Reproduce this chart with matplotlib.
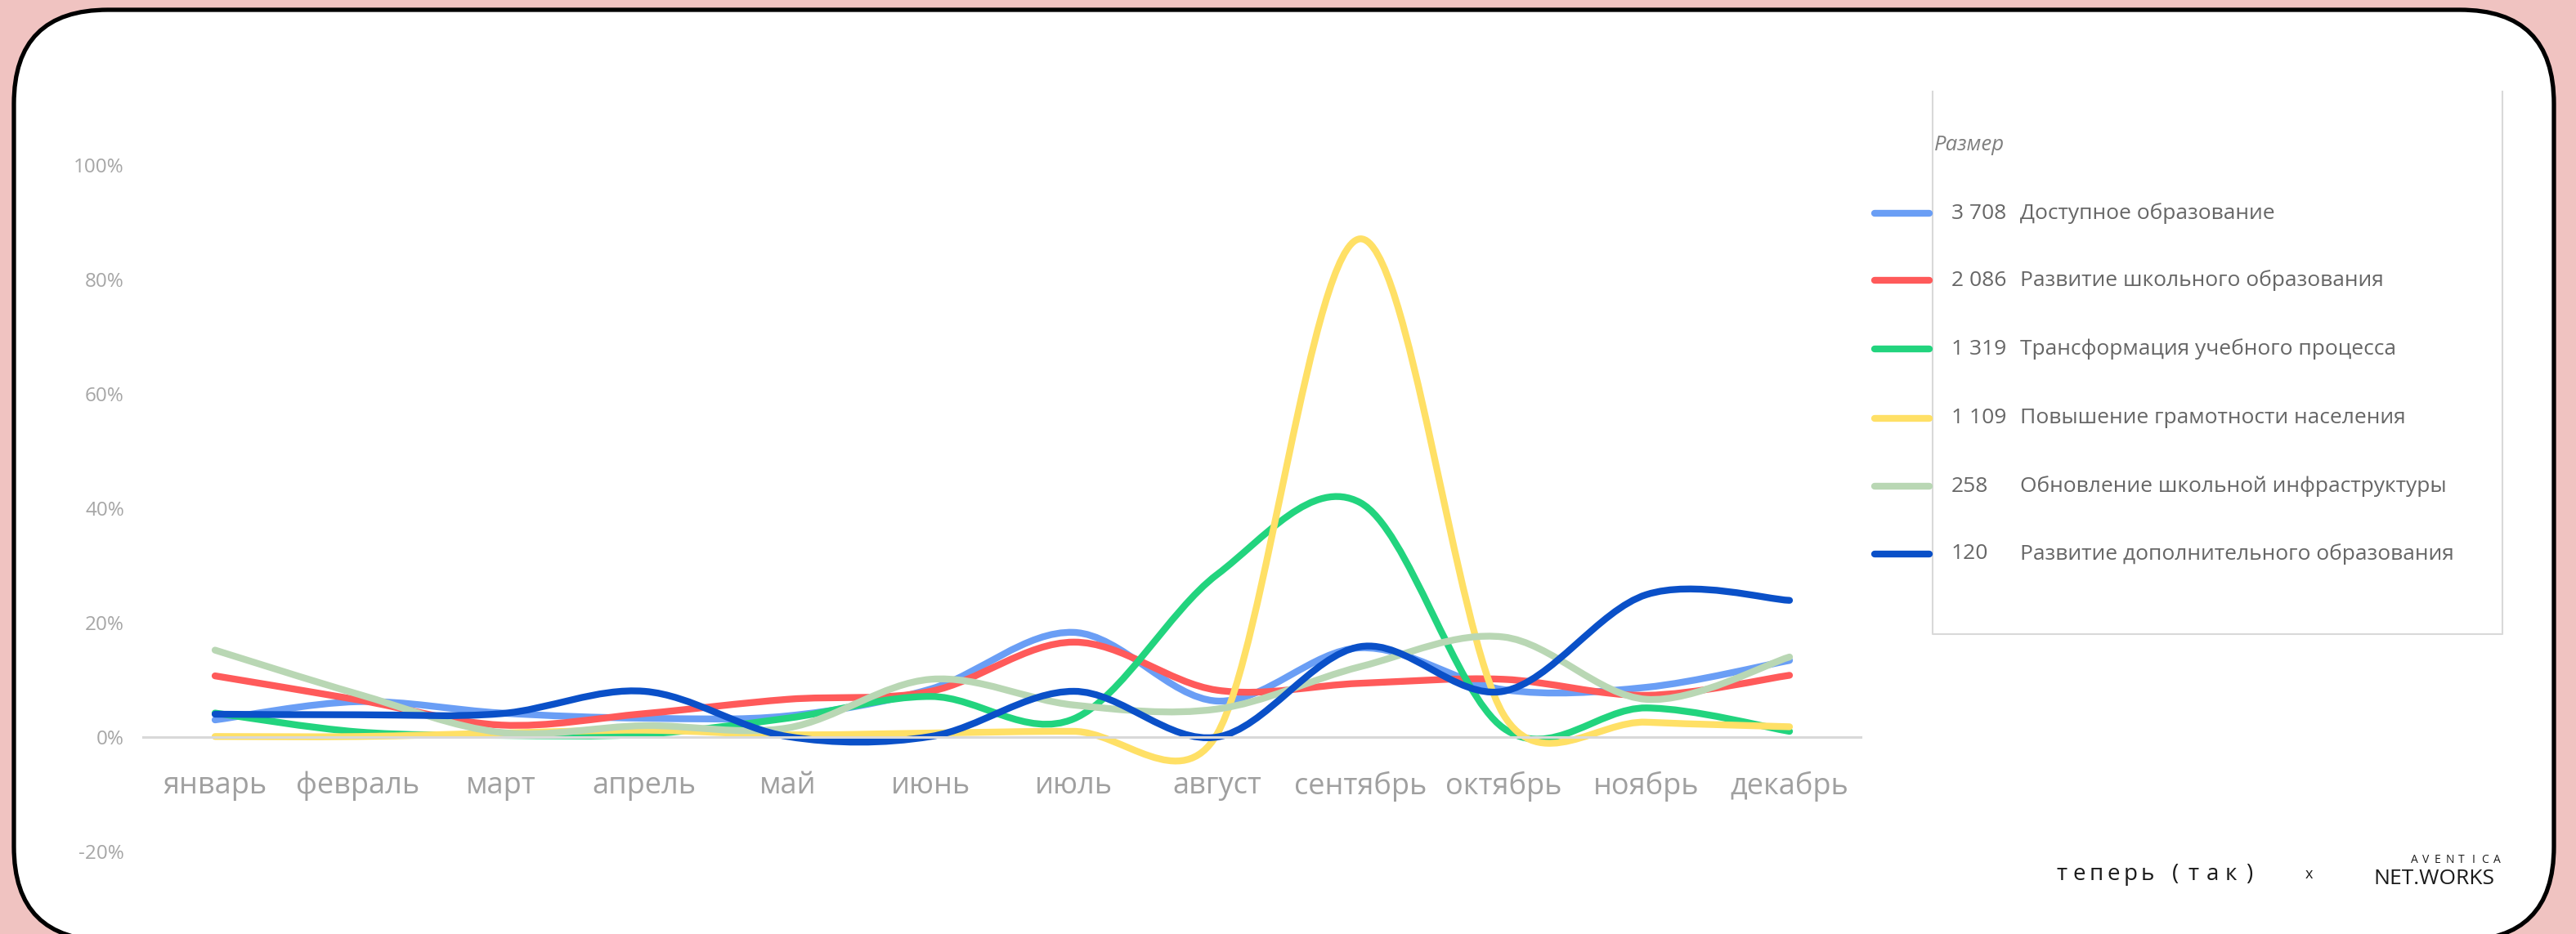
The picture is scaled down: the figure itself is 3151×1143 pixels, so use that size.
import matplotlib.pyplot as plt
import numpy as np
from matplotlib.path import Path
from matplotlib.patches import PathPatch, FancyBboxPatch

plt.rcParams['font.family'] = ['Open Sans', 'DejaVu Sans']

# Data (share of the year, %)
months = ['январь', 'февраль', 'март', 'апрель', 'май', 'июнь',
          'июль', 'август', 'сентябрь', 'октябрь', 'ноябрь', 'декабрь']

dostupnoe = [3.0, 6.2, 4.2, 3.3, 3.7, 8.4, 18.3, 6.3, 15.6, 8.3, 8.7, 13.4]
shkolnoe = [10.7, 6.5, 2.1, 4.1, 6.6, 8.0, 16.6, 8.2, 9.4, 10.1, 7.3, 10.8]
transformaciya = [4.2, 0.9, 0.3, 0.5, 3.3, 7.1, 3.2, 28.4, 41.0, 1.6, 5.1, 1.0]
gramotnost = [0.1, 0.1, 0.7, 1.2, 0.4, 0.7, 1.0, 0.5, 87.1, 4.0, 2.6, 1.8]
infrastruktura = [15.2, 7.5, 0.8, 2.0, 1.6, 10.1, 5.6, 4.9, 12.3, 17.5, 6.6, 14.0]
dopolnitelnoe = [4.0, 3.9, 4.1, 8.0, 0.1, 0.1, 8.0, 0.0, 15.8, 8.0, 24.9, 23.9]

series = [dostupnoe, shkolnoe, transformaciya, gramotnost, infrastruktura, dopolnitelnoe]
sizes = ['3 708', '2 086', '1 319', '1 109', '258', '120']
names = ['Доступное образование', 'Развитие школьного образования',
         'Трансформация учебного процесса', 'Повышение грамотности населения',
         'Обновление школьной инфраструктуры', 'Развитие дополнительного образования']
colors = ['#6A9EF5', '#FF5A5A', '#22D47E', '#FFE066', '#B9D7B4', '#0A50C8']

yticks = [-20, 0, 20, 40, 60, 80, 100]

W, H = 3151, 1143
LW = 6.0


def smooth_path(ax, xs, ys):
    # Excel-like smoothed line: cubic Bezier through the points (in screen space)
    pts = ax.transData.transform(np.column_stack([xs, ys]))
    n = len(pts)
    verts = [pts[0]]
    codes = [Path.MOVETO]
    for i in range(n - 1):
        p0 = pts[max(i - 1, 0)]
        p1 = pts[i]
        p2 = pts[i + 1]
        p3 = pts[min(i + 2, n - 1)]
        half = np.hypot(*(p2 - p1)) / 2
        a = (p2 - p0) / 6
        b = (p3 - p1) / 6
        if np.hypot(*a) > half:
            a = a * half / np.hypot(*a)
        if np.hypot(*b) > half:
            b = b * half / np.hypot(*b)
        verts += [p1 + a, p2 - b, p2]
        codes += [Path.CURVE4] * 3
    verts = ax.transData.inverted().transform(np.array(verts))
    return Path(verts, codes)


def spaced_text(ax, x0, y, s, step, **kw):
    for k, ch in enumerate(s):
        ax.text(x0 + k * step, y, ch, ha='center', **kw)


fig = plt.figure(figsize=(W / 100, H / 100), dpi=100)
fig.patch.set_facecolor('#F0C3C1')

# background card
bg = fig.add_axes([0, 0, 1, 1], zorder=0)
bg.set_xlim(0, W)
bg.set_ylim(H, 0)
bg.axis('off')
card = FancyBboxPatch((17, 12), 3107, 1139, boxstyle='round,pad=0,rounding_size=115',
                      fc='white', ec='black', lw=3.8)
bg.add_patch(card)

# legend
bg.plot([2364, 2364, 3061, 3061], [112, 776, 776, 112], color='#D9D9D9', lw=1.5)
bg.text(2366, 178, 'Размер', style='italic', fontsize=18.5, color='#7F7F7F', va='center')
row_y = [261, 343, 427, 512, 595, 678]
for yy, s, nm, c in zip(row_y, sizes, names, colors):
    bg.plot([2293, 2360], [yy, yy], color=c, lw=LW, solid_capstyle='round')
    bg.text(2387, yy, s, fontsize=19, color='#666666', va='center')
    bg.text(2471, yy, nm, fontsize=19, color='#666666', va='center')

# logos
spaced_text(bg, 2522, 1077, 'теперь', 21, fontsize=20, color='#1A1A1A')
spaced_text(bg, 2661, 1077, '(так)', 22.5, fontsize=20, color='#1A1A1A')
bg.text(2824, 1075, 'x', fontsize=13, color='#1A1A1A', ha='center')
spaced_text(bg, 2953, 1056, 'AVENTICA', 14.5, fontsize=10, color='#1A1A1A')
bg.text(3051, 1082, 'NET.WORKS', fontsize=19, color='#1A1A1A', ha='right',
        fontweight='medium')

# main chart
ax = fig.add_axes([175.5 / W, (H - 1042) / H, 2101 / W, 840 / H], zorder=1)
ax.set_facecolor('none')
ax.set_xlim(-0.5, 11.5)
ax.set_ylim(-20, 100)

for sp in ['top', 'right', 'left']:
    ax.spines[sp].set_visible(False)
ax.spines['bottom'].set_position(('data', 0))
ax.spines['bottom'].set_color('#D9D9D9')
ax.spines['bottom'].set_linewidth(2.2)

ax.set_yticks(yticks)
ax.set_yticklabels([f'{v}%' for v in yticks])
ax.tick_params(axis='y', length=0, pad=17, labelsize=17.5, labelcolor='#A6A6A6')
ax.set_xticks(range(len(months)))
ax.set_xticklabels(months)
ax.tick_params(axis='x', length=0, pad=30, labelsize=26, labelcolor='#A0A0A0')

xs = np.arange(len(months))
for vals, c in zip(series, colors):
    p = smooth_path(ax, xs, vals)
    ax.add_patch(PathPatch(p, fill=False, edgecolor=c, lw=LW,
                           capstyle='round', joinstyle='round', clip_on=False))

fig.savefig('out.png', dpi=100)
